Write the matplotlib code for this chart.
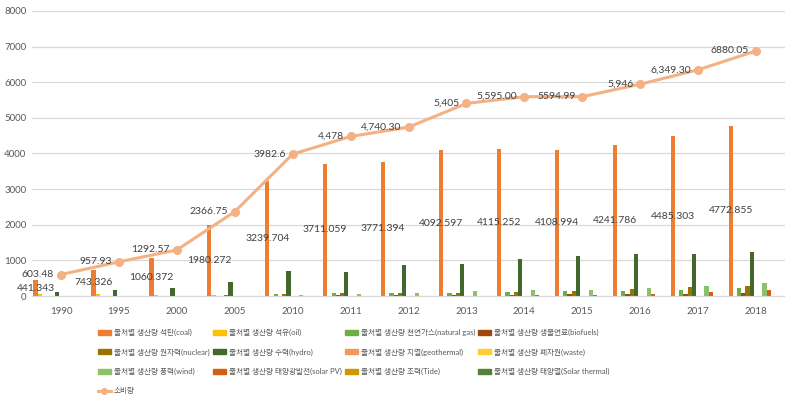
import matplotlib.pyplot as plt
import matplotlib.lines as mlines
import matplotlib.patches as mpatches
import numpy as np

plt.rcParams['font.family'] = ['Lato', 'Noto Sans CJK KR', 'DejaVu Sans']

years = ["1990", "1995", "2000", "2005", "2010", "2011", "2012", "2013",
         "2014", "2015", "2016", "2017", "2018"]

coal = [441.343, 743.326, 1060.372, 1980.272, 3239.704, 3711.059, 3771.394,
        4092.597, 4115.252, 4108.994, 4241.786, 4485.303, 4772.855]
oil = [45, 45, 40, 40, 0, 0, 0, 0, 0, 0, 0, 0, 0]
natural_gas = [0, 0, 0, 0, 45, 75, 75, 93, 100, 140, 150, 170, 215]
biofuels = [0, 0, 0, 0, 0, 28, 28, 37, 28, 47, 56, 56, 95]
nuclear = [0, 0, 0, 40, 45, 75, 75, 93, 112, 150, 205, 243, 280]
hydro = [120, 168, 215, 384, 710, 672, 860, 887, 1036, 1120, 1176, 1176, 1230]
geothermal = [0] * 13
waste = [0] * 13
wind = [0, 0, 0, 0, 18, 47, 75, 131, 159, 168, 224, 280, 365]
solar_pv = [0, 0, 0, 0, 0, 0, 0, 0, 19, 28, 65, 121, 170]
tide = [0] * 13
solar_thermal = [0] * 13

consumption = [603.48, 957.93, 1292.57, 2366.75, 3982.6, 4478, 4740.30, 5405,
               5595.00, 5594.99, 5946, 6349.30, 6880.05]
consumption_labels = ["603.48", "957.93", "1292.57", "2366.75", "3982.6", "4,478",
                      "4,740.30", "5,405", "5,595.00", "5594.99", "5,946",
                      "6,349.30", "6880.05"]

series_names = ["출처별 생산량 석탄(coal)", "출처별 생산량 석유(oil)",
                "출처별 생산량 천연가스(natural gas)", "출처별 생산량 생물연료(biofuels)",
                "출처별 생산량 원자력(nuclear)", "출처별 생산량 수력(hydro)",
                "출처별 생산량 지열(geothermal)", "출처별 생산량 폐자원(waste)",
                "출처별 생산량 풍력(wind)", "출처별 생산량 태양광발전(solar PV)",
                "출처별 생산량 조력(Tide)", "출처별 생산량 태양열(Solar thermal)"]
series_values = [coal, oil, natural_gas, biofuels, nuclear, hydro, geothermal,
                 waste, wind, solar_pv, tide, solar_thermal]
colors = ["#ED7D31", "#FFC000", "#70AD47", "#9E480E", "#997300", "#43682B",
          "#F1975A", "#FFCD33", "#8CC168", "#D26012", "#CC9A00", "#548235"]
line_color = "#F4B183"

fig = plt.figure(figsize=(7.85, 3.96), dpi=100)
ax = fig.add_axes([32 / 785, 1 - 296 / 396, 753 / 785, 285 / 396])

x = np.arange(len(years))
n = 13
w = 0.95 / n
for i, vals in enumerate(series_values):
    ax.bar(x + (i - (n - 1) / 2) * w, vals, width=w, color=colors[i], zorder=2)

# coal labels in the middle of the bar
for xi, v in zip(x, coal):
    ax.text(xi - (n - 1) / 2 * w, v / 2, f"{v:.3f}", ha='center', va='center',
            fontsize=7.5, color="#404040", zorder=4)

ax.plot(x, consumption, color=line_color, lw=2.2, marker='o', ms=5.5, zorder=3)
for xi, v, lab in zip(x, consumption, consumption_labels):
    ax.annotate(lab, (xi, v), xytext=(-5, 0), textcoords='offset points',
                ha='right', va='center', fontsize=7.5, color="#404040", zorder=4)

ax.set_xlim(-0.5, len(years) - 0.5)
ax.set_ylim(0, 8000)
ax.set_yticks(range(0, 8001, 1000))
ax.set_xticks(x)
ax.set_xticklabels(years)
ax.tick_params(axis='both', length=0, labelsize=7, labelcolor="#595959")
ax.tick_params(axis='x', pad=8)
ax.tick_params(axis='y', pad=4)
ax.grid(axis='y', color="#D9D9D9", lw=0.9, zorder=0)
for s in ['top', 'right', 'left']:
    ax.spines[s].set_visible(False)
ax.spines['bottom'].set_color("#D9D9D9")

handles = [mpatches.Patch(color=c) for c in colors]
handles.append(mlines.Line2D([], [], color=line_color, lw=2.2, marker='o', ms=4))
labels = series_names + ["소비량"]
# legend is filled column by column, reference reads row by row
order = [0, 4, 8, 12, 1, 5, 9, 2, 6, 10, 3, 7, 11]
fig.legend([handles[k] for k in order], [labels[k] for k in order],
           loc='upper left', bbox_to_anchor=(98 / 785, 1 - 329 / 396),
           ncol=4, frameon=False, fontsize=5.5, handlelength=1.7, handleheight=0.6,
           columnspacing=0.4, handletextpad=0.4, labelspacing=1.6,
           labelcolor="#595959", borderaxespad=0, borderpad=0)

fig.savefig("out.png", dpi=100)
